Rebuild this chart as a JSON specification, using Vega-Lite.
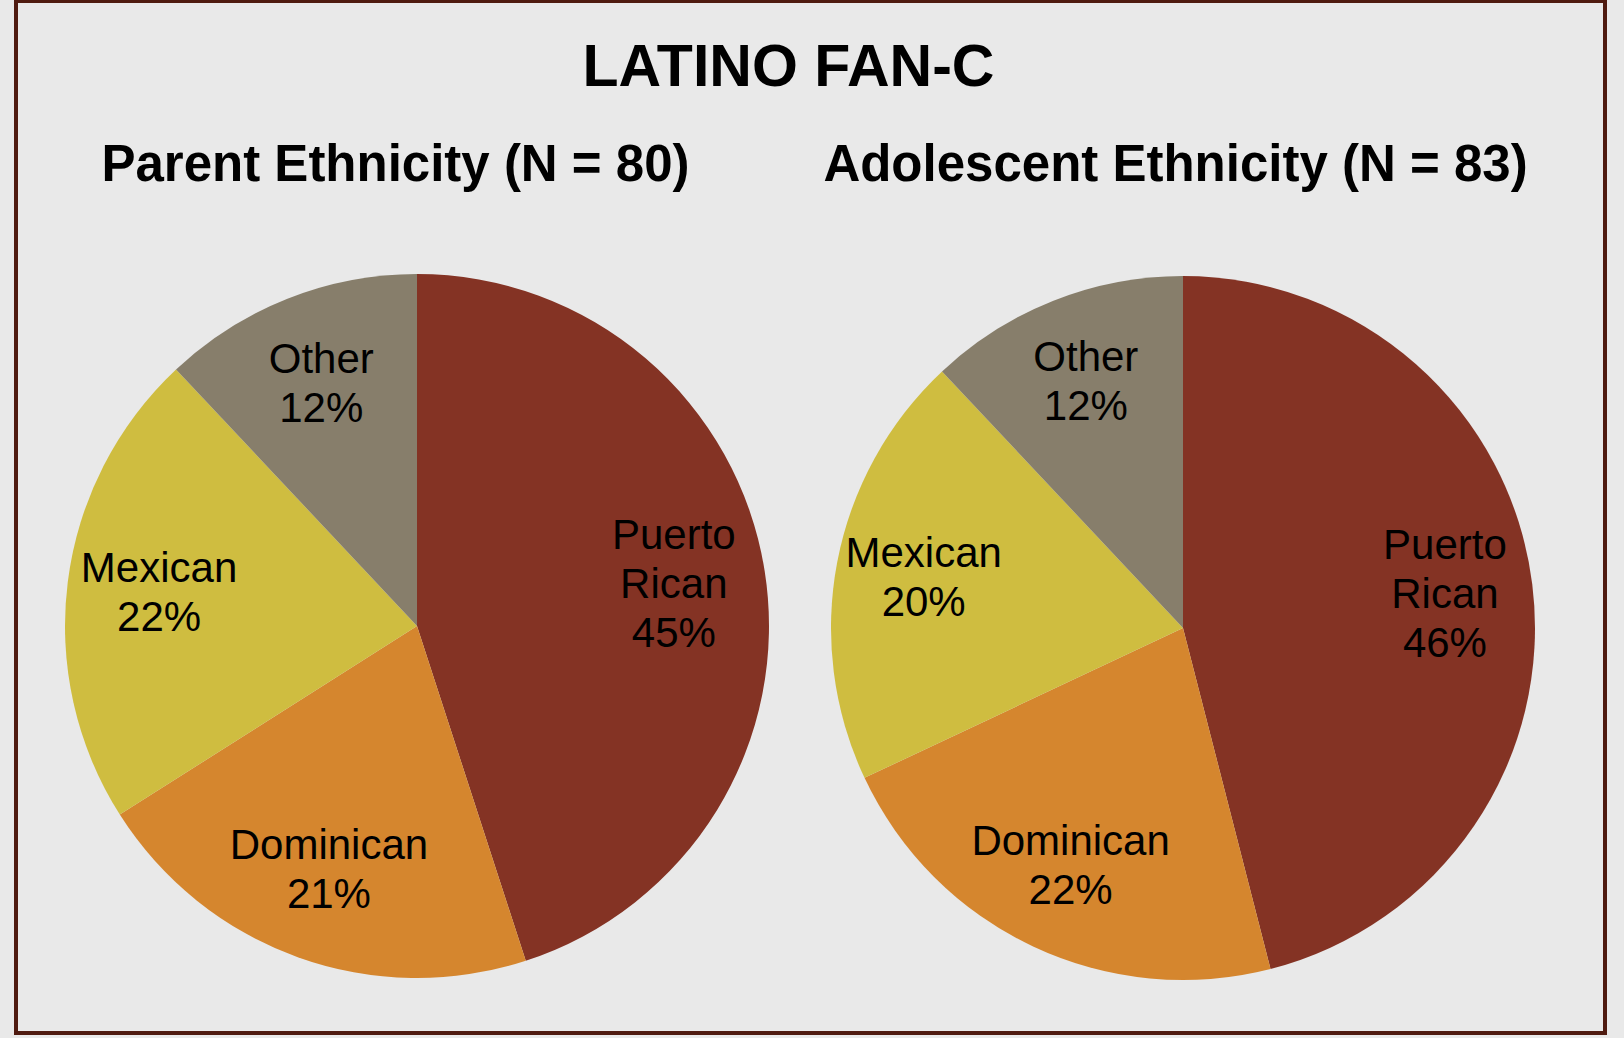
{
  "$schema": "https://vega.github.io/schema/vega-lite/v6.json",
  "width": 1589,
  "height": 1032,
  "autosize": {"type": "none"},
  "padding": {"left": 16, "top": 1, "right": 19, "bottom": 5},
  "background": "#e9e9e9",
  "config": {
    "view": {"stroke": "#4f1b10", "strokeWidth": 4, "fill": "#e9e9e9"},
    "font": "Liberation Sans"
  },
  "title": {
    "text": "LATINO FAN-C",
    "fontSize": 59,
    "fontWeight": "bold",
    "color": "#000000",
    "anchor": "middle",
    "baseline": "alphabetic",
    "offset": -144,
    "dx": -22,
    "font": "Liberation Sans"
  },
  "data": {
    "values": [
      {"group": "Parent Ethnicity (N = 80)", "category": "Puerto Rican", "pct": 45, "order": 1, "label": "Puerto\nRican\n45%"},
      {"group": "Parent Ethnicity (N = 80)", "category": "Dominican", "pct": 21, "order": 2, "label": "Dominican\n21%"},
      {"group": "Parent Ethnicity (N = 80)", "category": "Mexican", "pct": 22, "order": 3, "label": "Mexican\n22%"},
      {"group": "Parent Ethnicity (N = 80)", "category": "Other", "pct": 12, "order": 4, "label": "Other\n12%"},
      {"group": "Adolescent Ethnicity (N = 83)", "category": "Puerto Rican", "pct": 46, "order": 1, "label": "Puerto\nRican\n46%"},
      {"group": "Adolescent Ethnicity (N = 83)", "category": "Dominican", "pct": 22, "order": 2, "label": "Dominican\n22%"},
      {"group": "Adolescent Ethnicity (N = 83)", "category": "Mexican", "pct": 20, "order": 3, "label": "Mexican\n20%"},
      {"group": "Adolescent Ethnicity (N = 83)", "category": "Other", "pct": 12, "order": 4, "label": "Other\n12%"}
    ]
  },
  "encoding": {
    "x": {
      "field": "group",
      "type": "nominal",
      "scale": {
        "type": "point",
        "domain": ["Parent Ethnicity (N = 80)", "Adolescent Ethnicity (N = 83)"],
        "range": [401, 1167],
        "padding": 0
      },
      "axis": {
        "orient": "top",
        "title": null,
        "domain": false,
        "ticks": false,
        "tickSize": 0,
        "grid": false,
        "labelPadding": 0,
        "offset": -179,
        "labelFontSize": 51,
        "labelFontWeight": "bold",
        "labelColor": "#000000",
        "labelBaseline": "alphabetic",
        "labelOffset": {"condition": {"test": "datum.value === 'Parent Ethnicity (N = 80)'", "value": -22}, "value": -8},
        "labelFont": "Liberation Sans",
        "labelLimit": 0,
        "labelAngle": 0,
        "labelOverlap": false,
        "labelFlush": false
      }
    },
    "y": {
      "field": "group",
      "type": "nominal",
      "scale": {
        "type": "point",
        "domain": ["Parent Ethnicity (N = 80)", "Adolescent Ethnicity (N = 83)"],
        "range": [625, 627],
        "padding": 0
      },
      "axis": null
    }
  },
  "layer": [
    {
      "transform": [
        {"stack": "pct", "groupby": ["group"], "sort": [{"field": "order", "order": "ascending"}], "as": ["start", "end"]}
      ],
      "mark": {"type": "arc", "radius": 352},
      "encoding": {
        "theta": {"field": "start", "type": "quantitative", "stack": null, "scale": {"domain": [0, 100]}},
        "theta2": {"field": "end"},
        "color": {
          "field": "category",
          "type": "nominal",
          "scale": {
            "domain": ["Puerto Rican", "Dominican", "Mexican", "Other"],
            "range": ["#843324", "#D5862E", "#CFBD40", "#877E6B"]
          },
          "legend": null
        }
      }
    },
    {
      "mark": {
        "type": "text",
        "fontSize": 42,
        "lineBreak": "\n",
        "lineHeight": 49,
        "align": "center",
        "baseline": "middle",
        "dy": {"expr": "-24.5 * (length(split(datum.label, '\\n')) - 1)"},
        "color": "#000000",
        "font": "Liberation Sans"
      },
      "encoding": {
        "theta": {"field": "pct", "type": "quantitative", "stack": true},
        "order": {"field": "order", "type": "quantitative"},
        "detail": {"field": "category", "type": "nominal"},
        "radius": {
          "field": "group",
          "type": "nominal",
          "scale": {
            "type": "point",
            "domain": ["Parent Ethnicity (N = 80)", "Adolescent Ethnicity (N = 83)"],
            "range": [260, 264],
            "padding": 0
          }
        },
        "text": {"field": "label", "type": "nominal"}
      }
    }
  ]
}
